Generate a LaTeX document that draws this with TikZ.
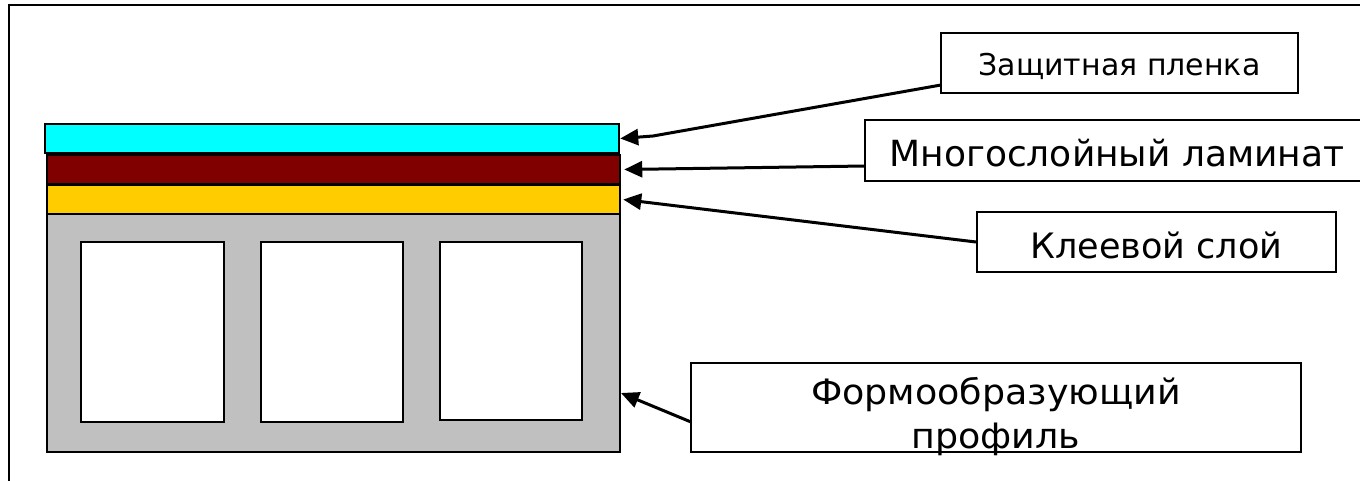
\documentclass[tikz,border=0pt]{standalone}
\usepackage{fontspec}
\setmainfont{DejaVu Sans}
\newfontfamily\proffont[FakeStretch=1.04]{DejaVu Sans}
\usetikzlibrary{arrows.meta}
\definecolor{plenka}{HTML}{00FFFF}
\definecolor{laminat}{HTML}{800000}
\definecolor{klei}{HTML}{FFCC00}
\definecolor{profil}{HTML}{C0C0C0}
\begin{document}
\begin{tikzpicture}[
        % --- стили ---
        x=1pt, y=-1pt,
        layer/.style={draw=black, line width=2.5pt, rectangle, inner sep=0pt},
        win/.style={layer, fill=white},
        lbl/.style={draw=black, line width=2pt, rectangle, inner sep=0pt},
        oneline/.style={text height=#1, text depth=0pt},
        arr/.style={draw, line width=3pt, -{Triangle[length=18pt, width=16pt]}}
        % --------------------
    ]
    \useasboundingbox (0,0) rectangle (1360,481);

    % рамка
    \draw[line width=2.5pt] (9,481) -- (9,5) -- (1362,5);

    % слои
    \node[layer, fill=plenka,  minimum width=574pt, minimum height=29pt] (film) at (332,138.5) {};
    \node[layer, fill=laminat, minimum width=573pt, minimum height=29pt] (lam)  at (333.5,169.5) {};
    \node[layer, fill=klei,    minimum width=573pt, minimum height=29pt] (glue) at (333.5,199.5) {};
    \node[layer, fill=profil,  minimum width=573pt, minimum height=238pt] (prof) at (333.5,333) {};

    % окна профиля
    \node[win, minimum width=143pt, minimum height=180pt] (win1) at (152.5,332) {};
    \node[win, minimum width=142pt, minimum height=180pt] (win2) at (332,332) {};
    \node[win, minimum width=142pt, minimum height=178pt] (win3) at (511,331) {};

    % подписи
    \node[lbl, oneline=26pt, font=\fontsize{30}{36}\selectfont,
          minimum width=357pt, minimum height=60pt] (filmLbl) at (1119.5,63) {Защитная пленка};
    \node[lbl, oneline=32pt, font=\fontsize{36}{44}\selectfont,
          minimum width=504pt, minimum height=61pt] (lamLbl)  at (1117,150.5) {Многослойный ламинат};
    \node[lbl, oneline=33pt, font=\fontsize{35}{44}\selectfont,
          minimum width=359pt, minimum height=60pt] (glueLbl) at (1156.5,242) {Клеевой слой};
    \node[lbl, align=center, font=\proffont\fontsize{35}{44}\selectfont,
          text height=84pt, text depth=3pt,
          minimum width=610pt, minimum height=89pt] (profLbl) at (996,407.5) {Формообразующий\\профиль};

    % стрелки
    \coordinate (filmFrom) at (941,85);
    \coordinate (filmBend) at (653,136);
    \coordinate (lamFrom) at (865,166);
    \coordinate (profFrom) at (691,422);
    \coordinate (profTo) at (621,393);
    \draw[arr] (filmFrom) -- (filmBend) -- (film.east);
    \draw[arr] (lamFrom) -- ([xshift=3pt]lam.east);
    \draw[arr] (glueLbl.west) -- ([xshift=2pt]glue.east);
    \draw[arr] (profFrom) -- (profTo);
\end{tikzpicture}
\end{document}
